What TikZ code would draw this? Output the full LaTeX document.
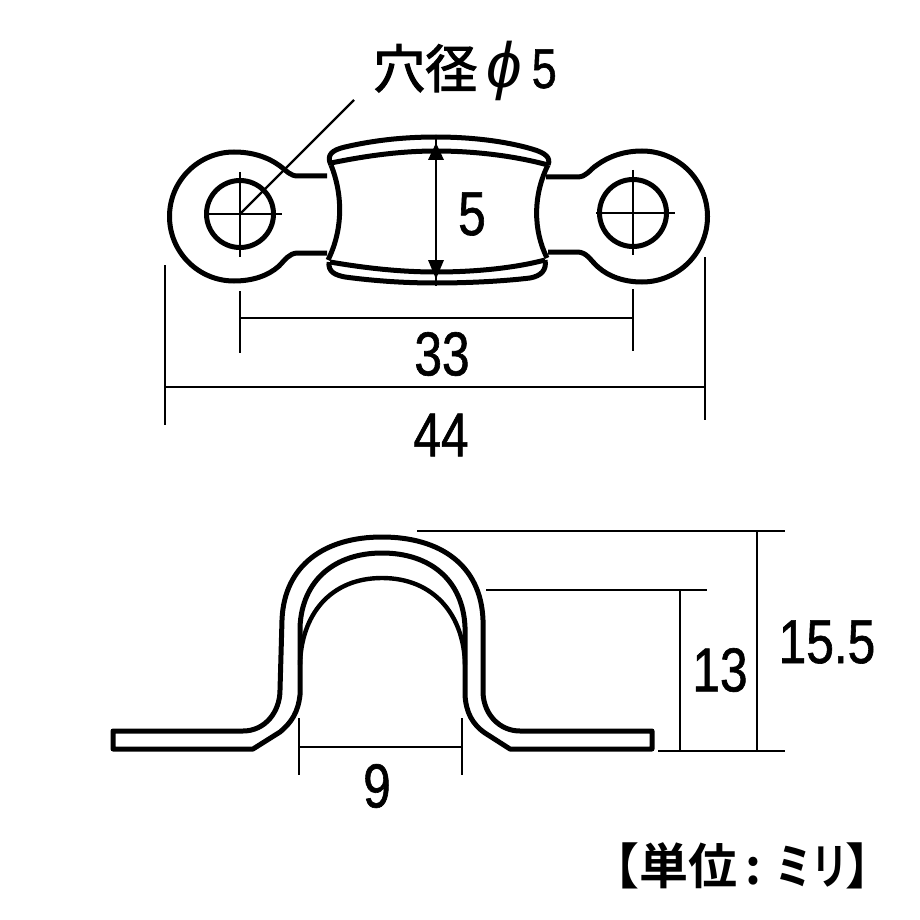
\documentclass[tikz,border=0pt]{standalone}
\usepackage{fontspec}
\setmainfont{Liberation Sans}
\newfontfamily\dimfont[FakeStretch=0.8,FakeBold=1]{Liberation Sans}
\newfontfamily\cjk[FakeBold=2.2]{Noto Sans CJK JP}
\newfontfamily\cjkbold{Noto Sans CJK JP Bold}
\newfontfamily\cjknarrow[FakeStretch=0.75]{Noto Sans CJK JP Bold}
\usetikzlibrary{arrows}
\usetikzlibrary{calc}

\begin{document}
\begin{tikzpicture}[x=1pt,y=-1pt,
    part line/.style={line width=5pt, line join=round},
    thin part/.style={line width=4.4pt},
    dim line/.style={line width=2.2pt},
    arrow head/.style={fill=black},
    dim label/.style={font=\dimfont\fontsize{62}{62}\selectfont, inner sep=0pt},
    ] 
\useasboundingbox (0,0) rectangle (920,920);

%% draw nodes
\coordinate (holeL) at (240,214);  \coordinate (holeR) at (633,213);
\coordinate (leader) at (354,100);
\coordinate (w44a) at (165,265);   \coordinate (w44b) at (165,425);
\coordinate (w44c) at (705,257);   \coordinate (w44d) at (705,420);
\coordinate (w44e) at (165,387);   \coordinate (w44f) at (705,387);
\coordinate (w33a) at (240,291);   \coordinate (w33b) at (240,353);
\coordinate (w33c) at (633,289);   \coordinate (w33d) at (633,351);
\coordinate (w33e) at (240,318);   \coordinate (w33f) at (633,318);
\coordinate (w5a) at (436,135);    \coordinate (w5b) at (436,286);
\coordinate (h1) at (417,531);     \coordinate (h2) at (785,531);
\coordinate (h3) at (486,590);     \coordinate (h4) at (707,590);
\coordinate (h5) at (658,751);     \coordinate (h6) at (785,751);
\coordinate (h13a) at (680,590);   \coordinate (h13b) at (680,751);
\coordinate (h15a) at (757,531);   \coordinate (h15b) at (757,751);
\coordinate (w9a) at (299,718);    \coordinate (w9b) at (299,775);
\coordinate (w9c) at (462,718);    \coordinate (w9d) at (462,775);
\coordinate (w9e) at (299,747);    \coordinate (w9f) at (462,747);

%% top view, eyes and neck
\draw[part line] (327,176) -- (298,176) .. controls (290,176) and (287,171) .. (280,166)
  .. controls (268,157) and (252,152) .. (234,152)
  arc[start angle=-90, end angle=-270, radius=64.5]
  .. controls (252,281) and (268,276) .. (279,266)
  .. controls (285,260) and (289,253) .. (298,253) -- (327,253);
\draw[part line] (546,177) -- (577,177) .. controls (587,177) and (589,170) .. (597,165)
  .. controls (609,156) and (625,151) .. (642,151)
  arc[start angle=-90, end angle=90, radius=65.5]
  .. controls (625,282) and (609,277) .. (598,267)
  .. controls (590,260) and (587,252) .. (577,252) -- (548,252);
\draw[part line] (holeL) circle[radius=33.5];
\draw[part line] (holeR) circle[radius=33.5];

%% top view, middle strap
\draw[part line] (331,165) .. controls (326,155) and (332,150) .. (345,147)
  .. controls (375,140) and (405,137) .. (436,137)
  .. controls (470,137) and (505,141) .. (532,149)
  .. controls (546,153) and (551,158) .. (548,165);
\draw[part line] (331,163) .. controls (365,156) and (400,151) .. (436,151)
  .. controls (475,151) and (515,156) .. (548,165);
\draw[part line] (331,165) .. controls (343,195) and (343,230) .. (328,260);
\draw[part line] (548,165) .. controls (533,195) and (533,230) .. (547,258);
\draw[part line] (330,262) .. controls (365,268) and (400,272) .. (436,272)
  .. controls (475,272) and (515,268) .. (545,260);
\draw[part line] (329,262) .. controls (328,272) and (335,275) .. (345,277)
  .. controls (375,281) and (405,283) .. (436,283)
  .. controls (470,283) and (505,281) .. (530,278)
  .. controls (541,276) and (547,270) .. (545,260);

%% hole centre lines and leader
\draw[dim line] (204,214) -- (282,214);  \draw[dim line] (240,172) -- (240,257);
\draw[dim line] (596,213) -- (675,213);  \draw[dim line] (633,170) -- (633,255);
\draw[dim line] (holeL) -- (leader);

%% side view
\draw[part line] (113,731) -- (243,731) .. controls (265,731) and (280,712) .. (280,690)
  -- (282,620) .. controls (284,565) and (325,537) .. (382,537)
  .. controls (440,537) and (481,565) .. (483,620)
  -- (483,693) .. controls (484,715) and (500,731) .. (520,731) -- (652,731)
  -- (652,749) -- (510,749) -- (485,733) .. controls (472,724) and (466,712) .. (465,695)
  -- (465,627) .. controls (463,580) and (430,553) .. (382,553)
  .. controls (335,553) and (302,580) .. (300,627)
  -- (300,695) .. controls (298,712) and (292,722) .. (280,732)
  -- (253,749) -- (113,749) -- cycle;
\draw[thin part] (300,665) .. controls (301,615) and (330,578) .. (382,578)
  .. controls (434,578) and (464,615) .. (465,665);

%% dimensions
\draw[dim line] (w44a) -- (w44b);  \draw[dim line] (w44c) -- (w44d);  \draw[dim line] (w44e) -- (w44f);
\draw[dim line] (w33a) -- (w33b);  \draw[dim line] (w33c) -- (w33d);  \draw[dim line] (w33e) -- (w33f);
\draw[dim line] (w5a) -- (w5b);
\fill[arrow head] (436,143) -- (444,160) -- (428,160) -- cycle;
\fill[arrow head] (436,279) -- (444,260) -- (428,260) -- cycle;
\draw[dim line] (h1) -- (h2);  \draw[dim line] (h3) -- (h4);  \draw[dim line] (h5) -- (h6);
\draw[dim line] (h13a) -- (h13b);  \draw[dim line] (h15a) -- (h15b);
\draw[dim line] (w9a) -- (w9b);  \draw[dim line] (w9c) -- (w9d);  \draw[dim line] (w9e) -- (w9f);

%% labels
\node[dim label] (l5) at (472,214) {5};
\node[dim label] (l33) at (442,354) {33};
\node[dim label] (l44) at (441,435) {44};
\node[dim label] (l9) at (377,786) {9};
\node[dim label] (l13) at (720,670) {13};
\node[dim label] (l15) at (827,642) {15.5};
\node[inner sep=0pt, anchor=base west] (lhole) at (373,88)
  {\fontsize{52}{52}\selectfont{\cjk 穴径}\kern9pt{\itshape\fontsize{64}{64}\selectfont ϕ}\kern10pt{\dimfont\fontsize{56}{56}\selectfont 5}};
\node[inner sep=0pt, anchor=base west] (lunit) at (590,884)
  {\fontsize{49}{49}\selectfont{\cjkbold 【単位}\kern8pt{\cjkbold :}\kern14pt{\cjknarrow ミリ}\kern-3pt{\cjkbold 】}};
  
\end{tikzpicture}
\end{document}
